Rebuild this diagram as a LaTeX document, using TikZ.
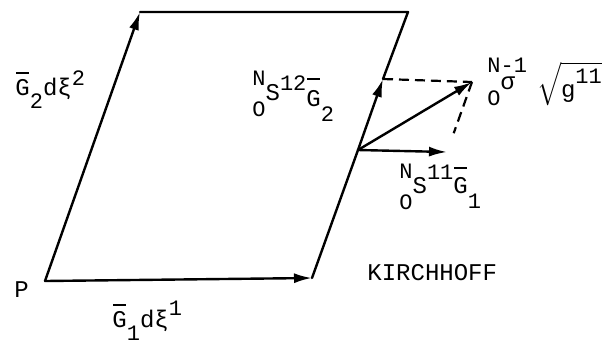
\documentclass[tikz,border=0pt]{standalone}
\usepackage{amsmath}
\usepackage{fontspec}
\setmonofont{Liberation Mono}
\usepackage{tikz}
\usetikzlibrary{arrows.meta}
\newcommand{\scr}{\fontsize{11}{12}\selectfont}
\newcommand{\rsup}[2][6pt]{\raisebox{#1}{\scr #2}}
\newcommand{\rsub}[2][-8pt]{\raisebox{#1}{\scr #2}}
\newcommand{\pre}[3][8pt]{\rlap{\rsup[#1]{#2}}\rsub{#3}}
\newcommand{\barG}[1][10pt]{\rlap{\hspace{0.4pt}\rule[#1]{6.4pt}{0.9pt}}G}

\begin{document}
\begin{tikzpicture}[
      x=0.5pt, y=-0.5pt,
      edge/.style={line width=1.2pt, line cap=round, line join=round},
      arr/.style={edge, -{Latex[length=9pt,width=5pt]}},
      dashline/.style={line width=1.1pt, dash pattern=on 5pt off 3pt},
      lbl/.style={inner sep=0pt, anchor=base west, font=\fontsize{12}{14}\selectfont\ttfamily}
    ]
    \useasboundingbox (0,0) rectangle (611,345);

    % corners of the cell
    \coordinate (P) at (45,281);
    \coordinate (B) at (312,278);
    \coordinate (A) at (140,12);
    \coordinate (C) at (408,12);
    \coordinate (M) at (358,150);
    \coordinate (T) at (383,79);
    \coordinate (H) at (447,152);
    \coordinate (R) at (472,82);

    \draw[arr] (P) -- (B);
    \draw[arr] (P) -- (A);
    \draw[edge] (A) -- (C) -- (T);
    \draw[edge] (B) -- (M);
    \draw[arr] (M) -- (T);
    \draw[arr] (M) -- (H);
    \draw[arr] (M) -- (R);
    \draw[dashline] (T) -- (R);
    \draw[dashline, shorten >=10pt] (R) -- (H);

    % labels
    \node[lbl] (p) at (14,297) {P};
    \node[lbl] (g1) at (112,327) {\barG[10.5pt]\rsub[-6.5pt]{1}dξ\rsup[6pt]{1}};
    \node[lbl] (g2) at (15,95) {\barG[10.5pt]\rsub[-6.5pt]{2}dξ\rsup[5pt]{2}};
    \node[lbl] (s12) at (252,100) {\pre[7.5pt]{N}{O}S\rsup[5pt]{12}\raisebox{-3pt}{\barG[13pt]}\rsub[-10.5pt]{2}};
    \node[lbl] (s11) at (399,193) {\pre[7.5pt]{N}{O}S\rsup[7pt]{11}\barG[12pt]\rsub[-7.5pt]{1}};
    \node[lbl] (sig) at (487,89) {\pre[8.5pt]{N}{O}\rlap{σ}\rsup[8.5pt]{-1}\hspace{5pt}$\sqrt{\hbox{\raisebox{-4pt}{g}\rsup[3pt]{11}}}$};
    \node[lbl] (kir) at (367,280) {KIRCHHOFF};
  \end{tikzpicture}
\end{document}
